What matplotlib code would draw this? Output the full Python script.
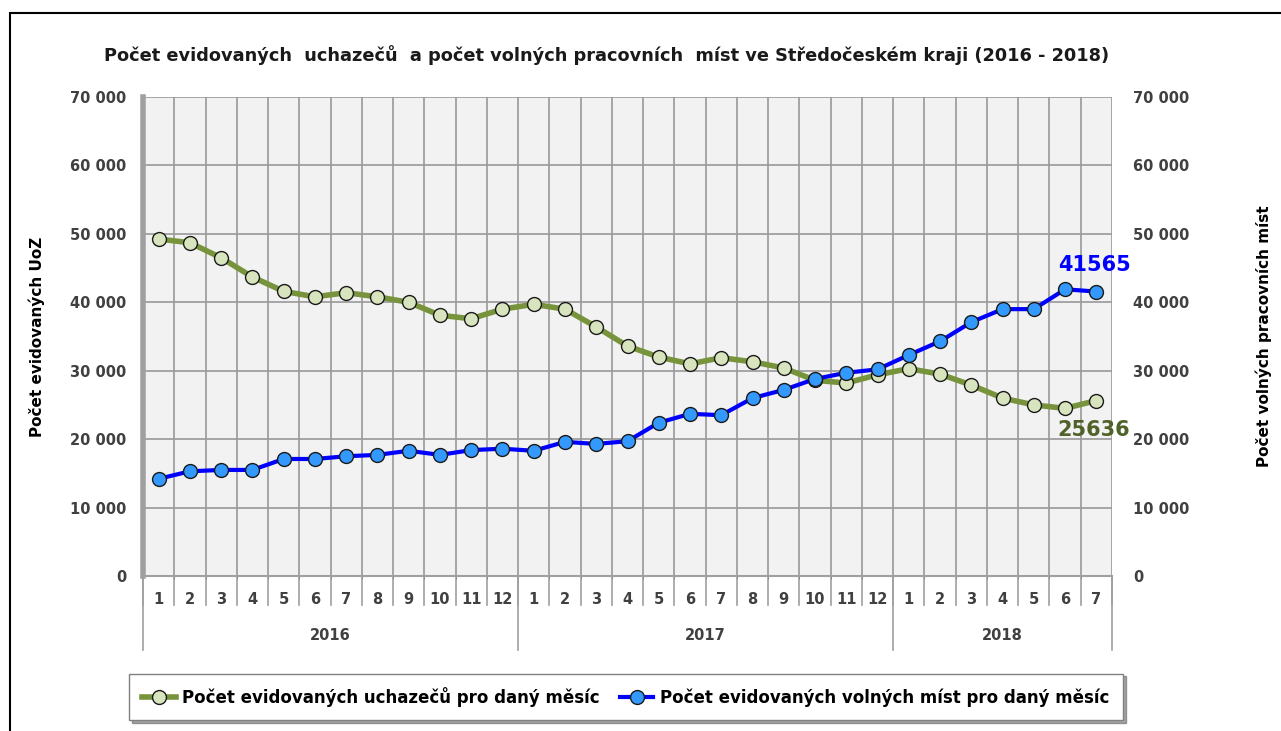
# Uchazeči a volná místa - Středočeský kraj 2016-2018
import matplotlib
matplotlib.use('Agg')
import matplotlib.pyplot as plt
import matplotlib.patches as patches
import numpy as np

# Data
months = [str(m) for m in range(1, 13)] * 2 + [str(m) for m in range(1, 8)]
years = ['2016', '2017', '2018']
year_counts = [12, 12, 7]

uchazeci = [49250, 48700, 46500, 43700, 41600, 40800, 41400, 40800, 40000, 38100, 37600, 39000,
            39700, 39000, 36400, 33600, 32000, 31000, 31900, 31300, 30400, 28600, 28200, 29400,
            30300, 29500, 27900, 26000, 25000, 24500, 25636]
volna_mista = [14200, 15300, 15500, 15500, 17100, 17100, 17500, 17700, 18300, 17700, 18400, 18600,
               18300, 19600, 19300, 19700, 22400, 23700, 23500, 26000, 27200, 28800, 29700, 30200,
               32300, 34300, 37100, 39000, 39000, 41900, 41565]

label_green = 'Počet evidovaných uchazečů pro daný měsíc'
label_blue = 'Počet evidovaných volných míst pro daný měsíc'

fig = plt.figure(figsize=(12.81, 7.31), dpi=100)
ax = fig.add_axes([143 / 1281, 1 - 576 / 731, (1112 - 143) / 1281, (576 - 97) / 731])

x = np.arange(len(months))
ax.set_facecolor('#f2f2f2')

ax.plot(x, uchazeci, color='#77933c', lw=4, marker='o', ms=10,
        mfc='#d7e4bd', mec='#1a1a1a', mew=1, label=label_green, zorder=3)
ax.plot(x, volna_mista, color='#0000ff', lw=3, marker='o', ms=10,
        mfc='#3399ff', mec='#1a1a1a', mew=1, label=label_blue, zorder=4)

ax.set_xlim(-0.5, len(months) - 0.5)
ax.set_ylim(0, 70000)
yt = np.arange(0, 70001, 10000)
ylabels = ['0' if v == 0 else f'{v // 1000} 000' for v in yt]
ax.set_yticks(yt)
ax.set_yticklabels(ylabels, color='#404040', fontsize=10.5, fontweight='bold')
ax.tick_params(axis='y', length=0, pad=12)

# grid
ax.set_xticks(np.arange(-0.5, len(months), 1), minor=True)
ax.grid(True, which='minor', axis='x', color='#999999', lw=1.2)
ax.grid(True, which='major', axis='y', color='#999999', lw=1.2)
ax.set_axisbelow(True)
ax.set_xticks([])

for s in ['top', 'right']:
    ax.spines[s].set_visible(False)
ax.spines['left'].set_color('#a0a0a0')
ax.spines['left'].set_linewidth(4)
ax.spines['bottom'].set_color('#a0a0a0')
ax.spines['bottom'].set_linewidth(1.5)

# category axis: months and years
tr = ax.get_xaxis_transform()
for i in range(len(months) + 1):
    ax.plot([i - 0.5, i - 0.5], [0, -0.06], color='#a0a0a0', lw=1.2, transform=tr, clip_on=False)
for i, m in enumerate(months):
    ax.text(i, -0.05, m, transform=tr, ha='center', va='center',
            fontsize=10.5, fontweight='bold', color='#404040')
start = 0
for yr, n in zip(years, year_counts):
    ax.plot([start - 0.5, start - 0.5], [0, -0.155], color='#a0a0a0', lw=1.2, transform=tr, clip_on=False)
    ax.text(start + n / 2 - 0.5, -0.125, yr, transform=tr, ha='center', va='center',
            fontsize=10.5, fontweight='bold', color='#404040')
    start += n
ax.plot([start - 0.5, start - 0.5], [0, -0.155], color='#a0a0a0', lw=1.2, transform=tr, clip_on=False)

# right axis
ax2 = ax.twinx()
ax2.set_ylim(0, 70000)
ax2.set_yticks(yt)
ax2.set_yticklabels(ylabels, color='#404040', fontsize=10.5, fontweight='bold')
ax2.tick_params(axis='y', length=0, pad=15)
for s in ax2.spines.values():
    s.set_visible(False)

ax.set_ylabel('Počet evidovaných UoZ', fontsize=11, fontweight='bold', labelpad=18)
ax2.set_ylabel('Počet volných pracovních míst', fontsize=11, fontweight='bold', labelpad=48)

# end value labels
ax.annotate(f'{volna_mista[-1]}', (x[-1], volna_mista[-1]), xytext=(-1, 12), textcoords='offset points',
            ha='center', va='bottom', color='#0000ff', fontsize=15, fontweight='bold')
ax.annotate(f'{uchazeci[-1]}', (x[-1], uchazeci[-1]), xytext=(-2, -14), textcoords='offset points',
            ha='center', va='top', color='#4f6228', fontsize=15, fontweight='bold')

fig.suptitle('Počet evidovaných  uchazečů  a počet volných pracovních  míst ve Středočeském kraji (2016 - 2018)',
             x=607 / 1281, y=1 - 55 / 731, va='center', fontsize=12.8, fontweight='bold', color='#1a1a1a')

leg = fig.legend(loc='center', bbox_to_anchor=(626 / 1281, 1 - 697 / 731), ncol=2,
                 prop={'weight': 'bold', 'size': 12}, frameon=True, fancybox=False, shadow=True,
                 handlelength=2.0, columnspacing=1.2, borderpad=0.8, handletextpad=0.4)
leg.get_frame().set_edgecolor('#808080')

# outer frame
fig.patches.append(patches.Rectangle((10 / 1281, -0.01), 1.0, 1 - 13 / 731 + 0.01,
                                     transform=fig.transFigure, fill=False, edgecolor='black', lw=1.5))

fig.savefig('out.png', dpi=100)
